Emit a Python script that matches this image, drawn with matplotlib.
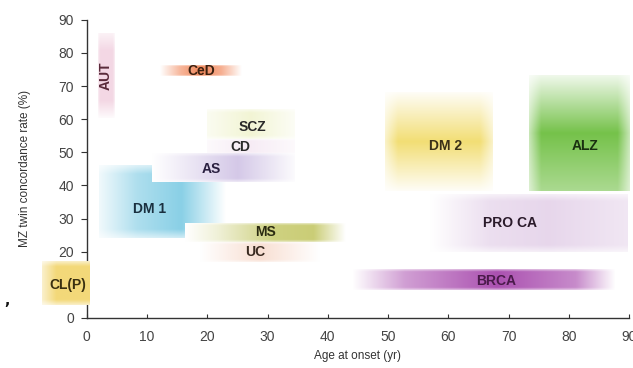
import numpy as np
import matplotlib
matplotlib.use("Agg")
import matplotlib.pyplot as plt
from matplotlib.colors import to_rgb

# Data: disease, age-at-onset range (x), MZ concordance range (y)
names = ["AUT", "CeD", "SCZ", "CD", "DM 1", "AS", "MS", "UC", "CL(P)", "DM 2", "ALZ", "PRO CA", "BRCA"]
age_lo = [1.8, 12.1, 20.0, 20.0, 2.0, 10.8, 16.3, 18.8, -7.5, 49.5, 73.3, 57.0, 44.0]
age_hi = [4.6, 25.7, 34.5, 34.5, 23.0, 34.5, 42.9, 38.7, 0.3, 67.3, 89.9, 89.7, 87.7]
conc_lo = [60.5, 73.0, 54.0, 49.5, 24.0, 41.0, 23.0, 17.0, 4.0, 38.3, 38.3, 20.0, 8.5]
conc_hi = [86.0, 76.3, 63.0, 54.0, 46.0, 49.5, 28.6, 23.0, 17.0, 68.0, 73.3, 37.4, 14.6]
label_age = [3.2, 19.0, 27.5, 25.5, 10.5, 20.6, 29.6, 28.0, -3.2, 59.5, 82.7, 70.3, 68.0]
label_conc = [73.0, 74.7, 57.8, 51.7, 33.0, 45.0, 26.0, 20.0, 10.0, 52.0, 52.0, 28.6, 11.3]
x_ticks = [0, 10, 20, 30, 40, 50, 60, 70, 80, 90]
y_ticks = [0, 10, 20, 30, 40, 50, 60, 70, 80, 90]

# Styles
colors = ["#e6a8c4", "#f07a48", "#e2e8a0", "#e6c8e2", "#6cc4e0", "#b8a4d8", "#b4b83c",
          "#f2bfa6", "#f0cf58", "#f0d85c", "#66bb36", "#cfaed8", "#a23ea8"]
direction = ["v", "h", "h", "h", "h", "h", "h", "h", "h", "v", "v", "h", "h"]
profiles = [
    [(0, 0.05), (0.2, 0.45), (0.8, 0.45), (1, 0.15)],
    [(0, 0.0), (0.25, 0.55), (0.5, 0.9), (0.75, 0.6), (1, 0.0)],
    [(0, 0.15), (0.5, 0.45), (1, 0.1)],
    [(0, 0.1), (0.5, 0.35), (1, 0.1)],
    [(0, 0.1), (0.3, 0.55), (0.65, 0.8), (1, 0.0)],
    [(0, 0.0), (0.3, 0.3), (0.6, 0.6), (1, 0.05)],
    [(0, 0.0), (0.2, 0.2), (0.55, 0.65), (0.8, 0.7), (1, 0.0)],
    [(0, 0.0), (0.5, 0.5), (1, 0.0)],
    [(0, 0.3), (0.3, 0.8), (1, 0.8)],
    [(0, 0.05), (0.5, 0.85), (1, 0.05)],
    [(0, 0.55), (0.5, 0.9), (1, 0.1)],
    [(0, 0.0), (0.3, 0.4), (0.6, 0.5), (1, 0.3)],
    [(0, 0.0), (0.2, 0.5), (0.55, 0.9), (0.85, 0.6), (1, 0.0)],
]
text_colors = ["#5a2a3a", "#3a2010", "#2a2a2a", "#2a2a2a", "#1a3040", "#2a2040", "#2a2a10",
               "#3a2a20", "#3a3010", "#3a3018", "#1a3010", "#2a1a2a", "#4a1a4a"]

fig = plt.figure(figsize=(6.33, 3.68), dpi=100)
ax = fig.add_axes([0.137, 0.136, 0.857, 0.81])
ax.set_xlim(0, 90)
ax.set_ylim(0, 90)

n = 200
for i in range(len(names)):
    t = np.linspace(0, 1, n)
    pts = profiles[i]
    main = np.interp(t, [p[0] for p in pts], [p[1] for p in pts])
    edge = np.clip(np.minimum(t, 1 - t) / 0.12, 0, 1) * 0.6 + 0.4
    if direction[i] == "h":
        a = edge[:, None] * main[None, :]
    else:
        a = main[::-1][:, None] * edge[None, :]
    rgb = np.array(to_rgb(colors[i]))
    img = np.ones((n, n, 3)) * (1 - a[..., None]) + rgb[None, None, :] * a[..., None]
    z = 3 if names[i] == "CL(P)" else 1 + i * 0.01
    ax.imshow(img, extent=[age_lo[i], age_hi[i], conc_lo[i], conc_hi[i]],
              aspect="auto", origin="upper", interpolation="bilinear",
              clip_on=False, zorder=z)
    rot = 90 if names[i] == "AUT" else 0
    ax.text(label_age[i], label_conc[i], names[i], ha="center", va="center",
            fontsize=10, fontweight="bold", color=text_colors[i], rotation=rot,
            family="Liberation Sans", zorder=4)

ax.set_aspect("auto")
ax.set_xlim(0, 90)
ax.set_ylim(0, 90)
ax.set_xticks(x_ticks)
ax.set_yticks(y_ticks)
for s in ["top", "right"]:
    ax.spines[s].set_visible(False)
for s in ["left", "bottom"]:
    ax.spines[s].set_color("#333333")
    ax.spines[s].set_linewidth(1.0)
    ax.spines[s].set_zorder(2)
ax.tick_params(axis="x", direction="in", length=3, pad=9, color="#333333", labelsize=10, labelcolor="#444444")
ax.tick_params(axis="y", direction="out", length=4, pad=5, color="#333333", labelsize=10, labelcolor="#444444")
for lab in ax.get_xticklabels() + ax.get_yticklabels():
    lab.set_family("Liberation Sans")
ax.set_xlabel("Age at onset (yr)", fontsize=8.5, color="#333333", family="Liberation Sans", labelpad=4)
ax.set_ylabel("MZ twin concordance rate (%)", fontsize=8.5, color="#333333", family="Liberation Sans", labelpad=20)
fig.text(0.006, 0.17, ",", fontsize=10, fontweight="bold", color="#111111")

fig.savefig("out.png", dpi=100)
